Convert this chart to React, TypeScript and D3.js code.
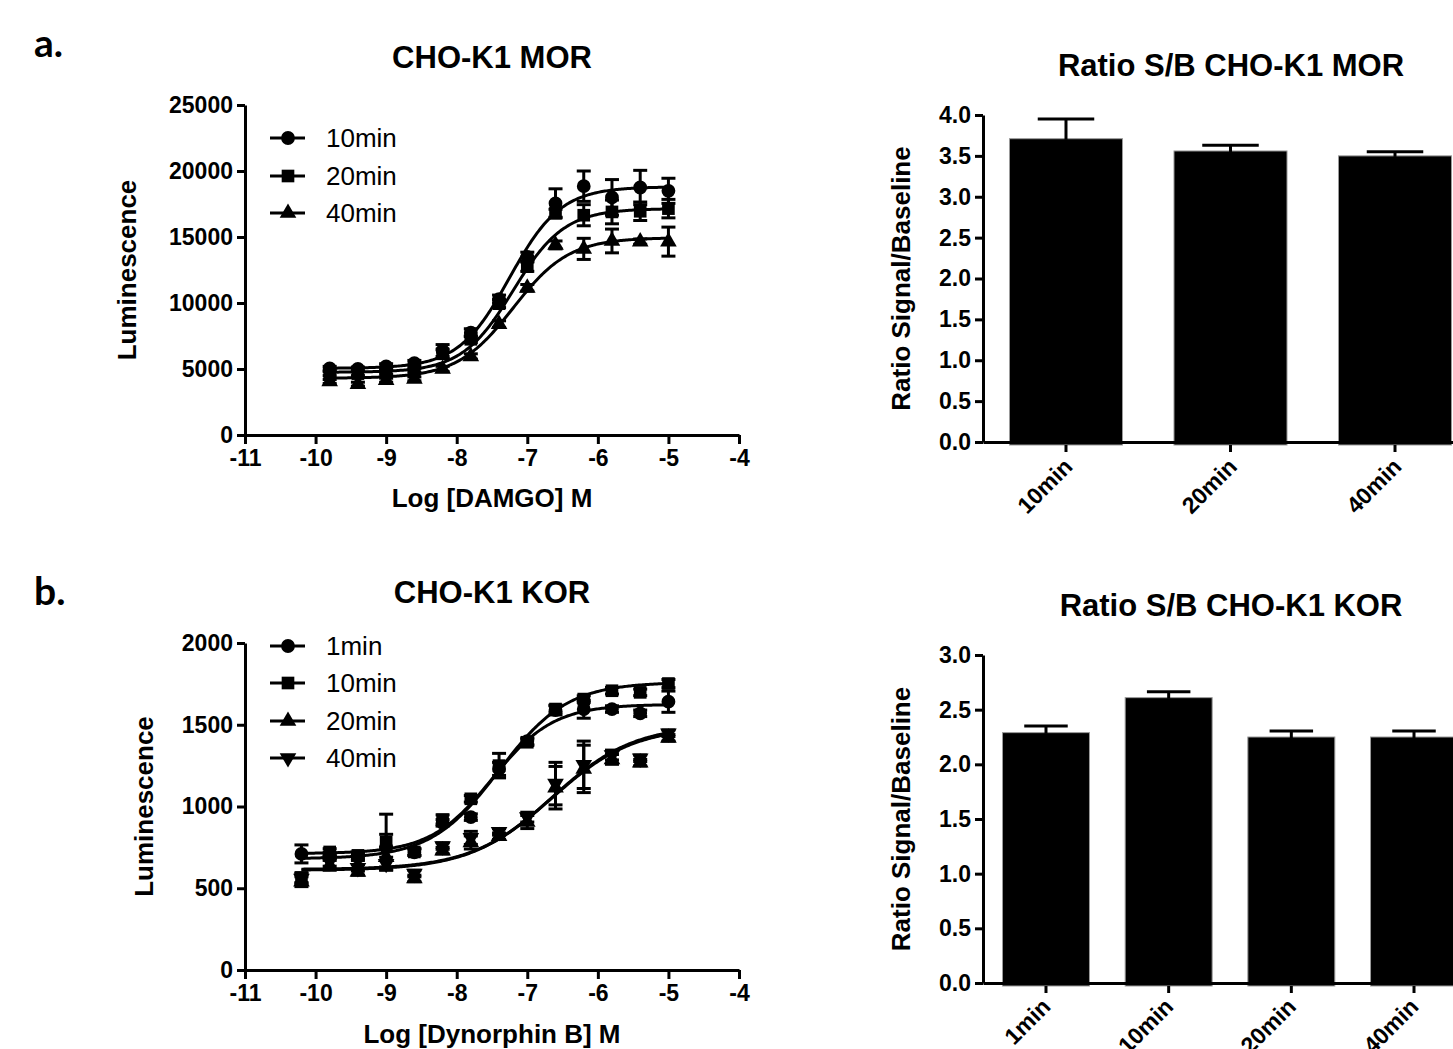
import React, { useRef, useEffect } from 'react';
import * as d3 from 'd3';

// ---- panel a: CHO-K1 MOR, DAMGO dose response ----
const morDoses = [-9.8, -9.4, -9.0, -8.6, -8.2, -7.8, -7.4, -7.0, -6.6, -6.2, -5.8, -5.4, -5.0];
const mor10 = [5050, 5000, 5200, 5450, 6400, 7750, 10300, 13500, 17550, 18850, 18000, 18750, 18500];
const mor10Err = [150, 150, 200, 200, 450, 300, 300, 350, 1100, 1150, 1350, 1300, 950];
const mor20 = [4650, 4650, 4750, 4900, 6150, 7250, 9950, 12750, 16800, 16650, 16900, 16950, 17150];
const mor20Err = [150, 150, 150, 150, 350, 250, 300, 350, 300, 800, 900, 700, 700];
const mor40 = [4050, 3850, 4150, 4250, 5000, 5950, 8400, 11150, 14400, 14100, 14700, 14650, 14650];
const mor40Err = [150, 150, 150, 150, 200, 200, 250, 250, 300, 800, 900, 200, 1100];
// fit params: bottom, top, logEC50, hill slope
const morFit10 = [5050, 18800, -7.25, 1.2];
const morFit20 = [4750, 17150, -7.2, 1.2];
const morFit40 = [4300, 14950, -7.2, 1.1];
const morLegend = ['10min', '20min', '40min'];

// ---- panel b: CHO-K1 KOR, Dynorphin B dose response ----
const korDoses = [-10.2, -9.8, -9.4, -9.0, -8.6, -8.2, -7.8, -7.4, -7.0, -6.6, -6.2, -5.8, -5.4, -5.0];
const kor1 = [710, 700, 690, 750, 720, 900, 935, 1230, 1400, 1590, 1595, 1596, 1570, 1641];
const kor1Err = [55, 20, 20, 80, 20, 20, 20, 40, 20, 30, 55, 20, 20, 65];
const kor10 = [565, 722, 701, 783, 722, 919, 1047, 1250, 1393, 1596, 1657, 1708, 1698, 1752];
const kor10Err = [30, 20, 20, 170, 20, 30, 20, 75, 20, 20, 20, 20, 20, 25];
const kor20 = [540, 640, 600, 690, 560, 730, 780, 818, 905, 1115, 1230, 1288, 1268, 1420];
const kor20Err = [30, 30, 20, 60, 20, 20, 40, 20, 40, 130, 145, 30, 20, 20];
const kor40 = [560, 665, 625, 650, 590, 758, 808, 845, 935, 1140, 1255, 1315, 1295, 1448];
const kor40Err = [30, 30, 20, 40, 20, 20, 40, 20, 30, 130, 145, 30, 20, 20];
const korFit1 = [712, 1625, -7.5, 1.0];
const korFit10 = [680, 1760, -7.4, 0.9];
const korFit20 = [610, 1500, -6.65, 0.75];
const korFit40 = [615, 1490, -6.65, 0.75];
const korLegend = ['1min', '10min', '20min', '40min'];

// ---- signal / baseline bars ----
const morBarLabels = ['10min', '20min', '40min'];
const morRatio = [3.71, 3.56, 3.50];
const morRatioErr = [0.24, 0.07, 0.05];
const korBarLabels = ['1min', '10min', '20min', '40min'];
const korRatio = [2.29, 2.61, 2.25, 2.25];
const korRatioErr = [0.06, 0.055, 0.055, 0.055];

const FONT = '"Liberation Sans", Arial, Helvetica, sans-serif';

const fourPL = (p, x) => p[0] + (p[1] - p[0]) / (1 + Math.pow(10, (p[2] - x) * p[3]));

const symbols = {
  circle: { type: d3.symbolCircle, size: 150, rot: 0 },
  square: { type: d3.symbolSquare, size: 160, rot: 0 },
  up: { type: d3.symbolTriangle, size: 120, rot: 0 },
  down: { type: d3.symbolTriangle, size: 120, rot: 180 },
};

function styleAxis(g) {
  g.select('.domain').attr('stroke', '#000').attr('stroke-width', 3);
  g.selectAll('.tick line').attr('stroke', '#000').attr('stroke-width', 3);
  g.selectAll('.tick text')
    .attr('fill', '#000')
    .style('font-family', FONT)
    .style('font-weight', 'bold')
    .style('font-size', '23px');
}

function drawCurvePanel(svg, o) {
  const x = d3.scaleLinear().domain([-11, -4]).range(o.xr);
  const y = d3.scaleLinear().domain(o.yDomain).range(o.yr);

  const gx = svg.append('g')
    .attr('transform', `translate(0,${o.yr[0]})`)
    .call(d3.axisBottom(x).tickValues(d3.range(-11, -3, 1)).tickSize(9).tickSizeOuter(0).tickPadding(6).tickFormat(d => String(d)));
  styleAxis(gx);
  const gy = svg.append('g')
    .attr('transform', `translate(${o.xr[0]},0)`)
    .call(d3.axisLeft(y).ticks(o.yTicks).tickSize(8).tickSizeOuter(0).tickPadding(4).tickFormat(d => String(d)));
  styleAxis(gy);

  // titles
  svg.append('text').attr('x', (o.xr[0] + o.xr[1]) / 2).attr('y', o.titleY)
    .attr('text-anchor', 'middle').style('font-family', FONT).style('font-weight', 'bold')
    .style('font-size', '31px').text(o.title);
  svg.append('text').attr('x', (o.xr[0] + o.xr[1]) / 2).attr('y', o.xTitleY)
    .attr('text-anchor', 'middle').style('font-family', FONT).style('font-weight', 'bold')
    .style('font-size', '26px').text(o.xTitle);
  svg.append('text')
    .attr('transform', `translate(${o.yTitleX},${(o.yr[0] + o.yr[1]) / 2}) rotate(-90)`)
    .attr('text-anchor', 'middle').style('font-family', FONT).style('font-weight', 'bold')
    .style('font-size', '26px').text('Luminescence');

  const line = d3.line().x(d => x(d[0])).y(d => y(d[1]));

  o.series.forEach(s => {
    // fitted curve
    const xs = d3.range(o.doses[0], o.doses[o.doses.length - 1] + 0.001, 0.02);
    svg.append('path')
      .datum(xs.map(v => [v, fourPL(s.fit, v)]))
      .attr('fill', 'none').attr('stroke', '#000').attr('stroke-width', 3)
      .attr('d', line);

    // error bars
    const eb = svg.append('g').attr('stroke', '#000').attr('stroke-width', 3);
    o.doses.forEach((dose, i) => {
      const cx = x(dose);
      const top = y(s.values[i] + s.err[i]);
      const bot = y(s.values[i] - s.err[i]);
      eb.append('line').attr('x1', cx).attr('x2', cx).attr('y1', top).attr('y2', bot);
      eb.append('line').attr('x1', cx - 7).attr('x2', cx + 7).attr('y1', top).attr('y2', top);
      eb.append('line').attr('x1', cx - 7).attr('x2', cx + 7).attr('y1', bot).attr('y2', bot);
    });

    // markers
    const sym = symbols[s.symbol];
    svg.append('g').selectAll('path')
      .data(o.doses.map((d, i) => [d, s.values[i]]))
      .enter().append('path')
      .attr('d', d3.symbol().type(sym.type).size(sym.size)())
      .attr('transform', d => `translate(${x(d[0])},${y(d[1])}) rotate(${sym.rot})`)
      .attr('fill', '#000');
  });

  // legend
  o.series.forEach((s, i) => {
    const ly = o.legendY[i];
    svg.append('line').attr('x1', 270).attr('x2', 305).attr('y1', ly).attr('y2', ly)
      .attr('stroke', '#000').attr('stroke-width', 3);
    const sym = symbols[s.symbol];
    svg.append('path').attr('d', d3.symbol().type(sym.type).size(sym.size)())
      .attr('transform', `translate(288,${ly}) rotate(${sym.rot})`).attr('fill', '#000');
    svg.append('text').attr('x', 326).attr('y', ly).attr('dy', '0.36em')
      .style('font-family', FONT).style('font-size', '26px').text(s.name);
  });
}

function drawBarPanel(svg, o) {
  const x = d3.scaleBand().domain(o.labels).range(o.xr).paddingInner(o.padIn).paddingOuter(o.padOut);
  const y = d3.scaleLinear().domain(o.yDomain).range(o.yr);
  const y0 = o.yr[0];

  // bars
  svg.append('g').selectAll('rect')
    .data(o.labels.map((l, i) => ({ l, v: o.values[i], e: o.err[i] })))
    .enter().append('rect')
    .attr('x', d => x(d.l)).attr('width', x.bandwidth())
    .attr('y', d => y(d.v)).attr('height', d => y0 + 3 - y(d.v))
    .attr('fill', '#000').attr('stroke', '#9a9a9a').attr('stroke-width', 1);

  // error bars (mean + SEM)
  const eb = svg.append('g').attr('stroke', '#000').attr('stroke-width', 3);
  o.labels.forEach((l, i) => {
    const cx = x(l) + x.bandwidth() / 2;
    const top = y(o.values[i] + o.err[i]);
    const half = x.bandwidth() / 4;
    eb.append('line').attr('x1', cx).attr('x2', cx).attr('y1', top).attr('y2', y(o.values[i]) + 1);
    eb.append('line').attr('x1', cx - half).attr('x2', cx + half).attr('y1', top).attr('y2', top);
  });

  // x axis
  const gx = svg.append('g').attr('transform', `translate(0,${y0})`)
    .call(d3.axisBottom(x).tickSize(10).tickSizeOuter(0).tickFormat(''));
  styleAxis(gx);
  gx.selectAll('.tick line').attr('y1', 3);
  gx.selectAll('.tick').append('text')
    .attr('transform', `translate(${o.labelDx},${o.labelDy}) rotate(-45)`)
    .attr('text-anchor', 'end').attr('fill', '#000')
    .style('font-family', FONT).style('font-weight', 'bold').style('font-size', '23px')
    .text(d => d);

  const gy = svg.append('g').attr('transform', `translate(${o.xr[0]},0)`)
    .call(d3.axisLeft(y).ticks(o.yTicks).tickSize(8).tickSizeOuter(0).tickPadding(4).tickFormat(d3.format('.1f')));
  styleAxis(gy);

  svg.append('text').attr('x', 1231).attr('y', o.titleY)
    .attr('text-anchor', 'middle').style('font-family', FONT).style('font-weight', 'bold')
    .style('font-size', '31px').text(o.title);
  svg.append('text')
    .attr('transform', `translate(${o.yTitleX},${(o.yr[0] + o.yr[1]) / 2}) rotate(-90)`)
    .attr('text-anchor', 'middle').style('font-family', FONT).style('font-weight', 'bold')
    .style('font-size', '26px').text('Ratio Signal/Baseline');
}

export default function App() {
  const svgRef = useRef(null);

  useEffect(() => {
    const svg = d3.select(svgRef.current);
    svg.selectAll('*').remove();

    // panel letters
    svg.append('text').attr('x', 34).attr('y', 57)
      .style('font-family', 'Lato, "Open Sans", sans-serif').style('font-weight', 'bold')
      .style('font-size', '39px').text('a.');
    svg.append('text').attr('x', 34).attr('y', 605)
      .style('font-family', 'Lato, "Open Sans", sans-serif').style('font-weight', 'bold')
      .style('font-size', '39px').text('b.');

    drawCurvePanel(svg, {
      xr: [245, 739], yr: [435, 105], yDomain: [0, 25000], yTicks: 5,
      doses: morDoses, title: 'CHO-K1 MOR', titleY: 68, xTitle: 'Log [DAMGO] M', xTitleY: 507, yTitleX: 136,
      legendY: [138, 176, 213],
      series: [
        { name: morLegend[0], values: mor10, err: mor10Err, fit: morFit10, symbol: 'circle' },
        { name: morLegend[1], values: mor20, err: mor20Err, fit: morFit20, symbol: 'square' },
        { name: morLegend[2], values: mor40, err: mor40Err, fit: morFit40, symbol: 'up' },
      ],
    });

    drawCurvePanel(svg, {
      xr: [245, 739], yr: [970, 643], yDomain: [0, 2000], yTicks: 4,
      doses: korDoses, title: 'CHO-K1 KOR', titleY: 603, xTitle: 'Log [Dynorphin B] M', xTitleY: 1043, yTitleX: 153,
      legendY: [646, 683, 721, 758],
      series: [
        { name: korLegend[0], values: kor1, err: kor1Err, fit: korFit1, symbol: 'circle' },
        { name: korLegend[1], values: kor10, err: kor10Err, fit: korFit10, symbol: 'square' },
        { name: korLegend[2], values: kor20, err: kor20Err, fit: korFit20, symbol: 'up' },
        { name: korLegend[3], values: kor40, err: kor40Err, fit: korFit40, symbol: 'down' },
      ],
    });

    drawBarPanel(svg, {
      labels: morBarLabels, values: morRatio, err: morRatioErr,
      xr: [983, 1478], yr: [442, 115], yDomain: [0, 4], yTicks: 8, padIn: 0.313, padOut: 0.161,
      title: 'Ratio S/B CHO-K1 MOR', titleY: 76, yTitleX: 910, labelDx: 8, labelDy: 26,
    });

    drawBarPanel(svg, {
      labels: korBarLabels, values: korRatio, err: korRatioErr,
      xr: [983, 1477], yr: [983, 655], yDomain: [0, 3], yTicks: 6, padIn: 0.291, padOut: 0.159,
      title: 'Ratio S/B CHO-K1 KOR', titleY: 616, yTitleX: 910, labelDx: 6, labelDy: 25,
    });
  }, []);

  return (
    <svg ref={svgRef} width={1453} height={1049}
      style={{ position: 'absolute', left: 0, top: 0, background: '#fff' }} />
  );
}
